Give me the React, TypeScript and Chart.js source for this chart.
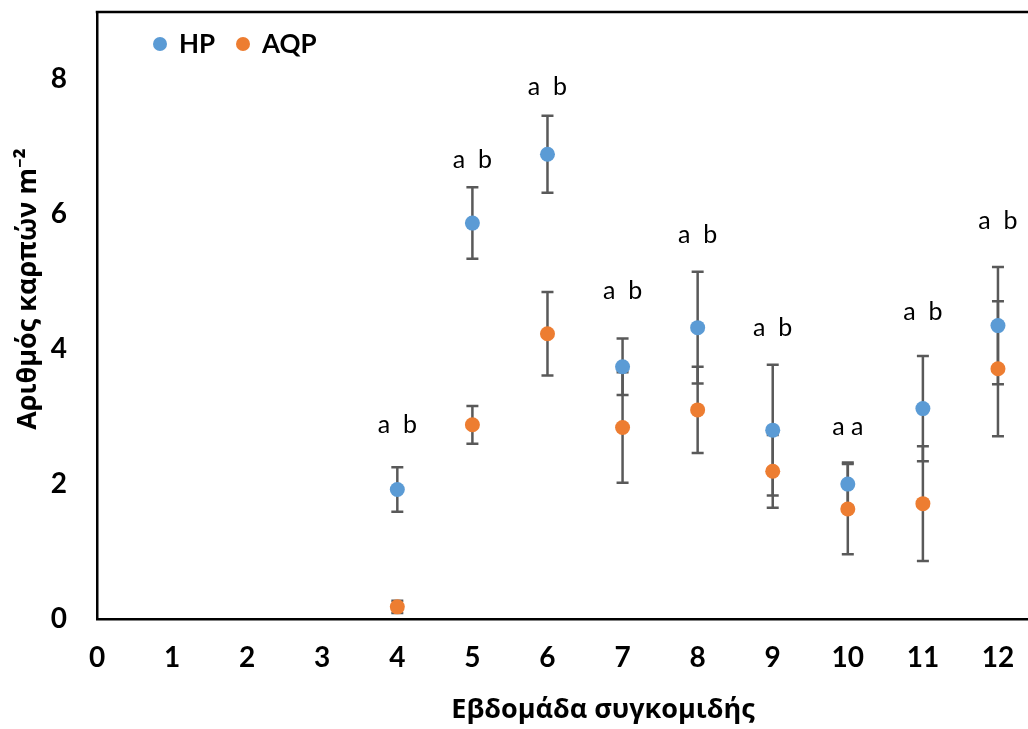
import React, { useEffect, useRef } from "react";
import { Chart, registerables } from "chart.js";
Chart.register(...registerables);

// ---- data ----
const weeks = [4, 5, 6, 7, 8, 9, 10, 11, 12];
const hpMean = [1.92, 5.87, 6.89, 3.74, 4.32, 2.8, 2.0, 3.12, 4.35];
const hpErr = [0.33, 0.53, 0.57, 0.42, 0.83, 0.97, 0.32, 0.78, 0.87];
const aqpMean = [0.18, 2.88, 4.23, 2.84, 3.1, 2.19, 1.63, 1.71, 3.71];
const aqpErr = [0.09, 0.28, 0.62, 0.82, 0.64, 0.54, 0.67, 0.85, 1.0];
const sigLabels = ["a  b", "a  b", "a  b", "a  b", "a  b", "a  b", "a a", "a  b", "a  b"];
const sigY = [2.87, 6.8, 7.89, 4.86, 5.69, 4.31, 2.85, 4.55, 5.9];
const seriesNames = ["HP", "AQP"];
const yTicks = [0, 2, 4, 6, 8];
const xTicks = [0, 1, 2, 3, 4, 5, 6, 7, 8, 9, 10, 11, 12];
const xTitle = "Εβδομάδα συγκομιδής";
const yTitle = "Αριθμός καρπών m⁻²";

const BLUE = "#5B9BD5";
const ORANGE = "#ED7D31";
const ERR = "#595959";
const GREEK_FONT = "'Open Sans', 'Noto Sans', sans-serif";
const NUM_FONT = "Lato, 'Open Sans', sans-serif";

export default function App() {
  const ref = useRef<HTMLCanvasElement>(null);
  useEffect(() => {
    document.body.style.margin = "0";
    const errs = [hpErr, aqpErr];

    const errorBars = {
      id: "errorBars",
      beforeDatasetsDraw(chart: any) {
        const { ctx } = chart;
        const xs = chart.scales.x;
        const ys = chart.scales.y;
        ctx.save();
        ctx.strokeStyle = ERR;
        ctx.lineWidth = 2.5;
        chart.data.datasets.forEach((ds: any, di: number) => {
          ds.data.forEach((p: any, i: number) => {
            const e = errs[di][i];
            const x = xs.getPixelForValue(p.x);
            const y1 = ys.getPixelForValue(p.y + e);
            const y2 = ys.getPixelForValue(p.y - e);
            ctx.beginPath();
            ctx.moveTo(x, y1);
            ctx.lineTo(x, y2);
            ctx.moveTo(x - 6, y1);
            ctx.lineTo(x + 6, y1);
            ctx.moveTo(x - 6, y2);
            ctx.lineTo(x + 6, y2);
            ctx.stroke();
          });
        });
        ctx.restore();
      },
    };

    const extras = {
      id: "extras",
      afterDraw(chart: any) {
        const { ctx, chartArea } = chart;
        const xs = chart.scales.x;
        const ys = chart.scales.y;
        ctx.save();
        // top border
        ctx.strokeStyle = "#000";
        ctx.lineWidth = 2.5;
        ctx.beginPath();
        ctx.moveTo(chartArea.left - 1.25, chartArea.top);
        ctx.lineTo(chartArea.right, chartArea.top);
        ctx.stroke();
        // significance letters
        ctx.fillStyle = "#000";
        ctx.font = `25px ${NUM_FONT}`;
        ctx.textAlign = "center";
        ctx.textBaseline = "middle";
        weeks.forEach((w, i) => {
          ctx.fillText(sigLabels[i], xs.getPixelForValue(w), ys.getPixelForValue(sigY[i]));
        });
        // legend
        const colors = [BLUE, ORANGE];
        const legX = [160, 243];
        ctx.font = `bold 26px ${NUM_FONT}`;
        ctx.textAlign = "left";
        seriesNames.forEach((n, i) => {
          ctx.fillStyle = colors[i];
          ctx.beginPath();
          ctx.arc(legX[i], chartArea.top + 32, 7, 0, Math.PI * 2);
          ctx.fill();
          ctx.fillStyle = "#000";
          ctx.fillText(n, legX[i] + 19, chartArea.top + 33);
        });
        // axis titles
        ctx.font = `bold 27px ${GREEK_FONT}`;
        ctx.textAlign = "center";
        ctx.fillText(xTitle, 603, 710);
        ctx.translate(28, 289);
        ctx.rotate(-Math.PI / 2);
        ctx.fillText(yTitle, 0, 0);
        ctx.restore();
      },
    };

    const chart = new Chart(ref.current as HTMLCanvasElement, {
      type: "scatter",
      data: {
        datasets: [
          {
            label: seriesNames[0],
            data: weeks.map((w, i) => ({ x: w, y: hpMean[i] })),
            backgroundColor: BLUE,
            borderColor: BLUE,
            pointRadius: 7.5,
            pointBorderWidth: 0,
          },
          {
            label: seriesNames[1],
            data: weeks.map((w, i) => ({ x: w, y: aqpMean[i] })),
            backgroundColor: ORANGE,
            borderColor: ORANGE,
            pointRadius: 7.5,
            pointBorderWidth: 0,
          },
        ],
      },
      options: {
        responsive: false,
        animation: false,
        devicePixelRatio: 1,
        layout: { autoPadding: false, padding: { top: 12, left: 0, right: 0, bottom: 0 } },
        plugins: { legend: { display: false }, tooltip: { enabled: false } },
        scales: {
          x: {
            type: "linear",
            min: 0,
            max: 12.4,
            grid: { display: false, drawTicks: false },
            border: { color: "#000", width: 2.5 },
            ticks: {
              stepSize: 1,
              padding: 22,
              color: "#000",
              font: { family: NUM_FONT, size: 28, weight: "bold" },
            },
            afterBuildTicks: (s: any) => {
              s.ticks = xTicks.map((v) => ({ value: v }));
            },
            afterFit: (s: any) => {
              s.height = 110;
              s.paddingLeft = 0;
              s.paddingRight = 0;
            },
          },
          y: {
            min: 0,
            max: 9,
            grid: { display: false, drawTicks: false },
            border: { color: "#000", width: 2.5 },
            ticks: {
              stepSize: 2,
              padding: 30,
              color: "#000",
              font: { family: NUM_FONT, size: 28, weight: "bold" },
            },
            afterBuildTicks: (s: any) => {
              s.ticks = yTicks.map((v) => ({ value: v }));
            },
            afterFit: (s: any) => {
              s.width = 97;
              s.paddingTop = 0;
              s.paddingBottom = 0;
            },
          },
        },
      },
      plugins: [errorBars, extras],
    });
    return () => chart.destroy();
  }, []);
  return <canvas ref={ref} width={1028} height={729} style={{ display: "block" }} />;
}
